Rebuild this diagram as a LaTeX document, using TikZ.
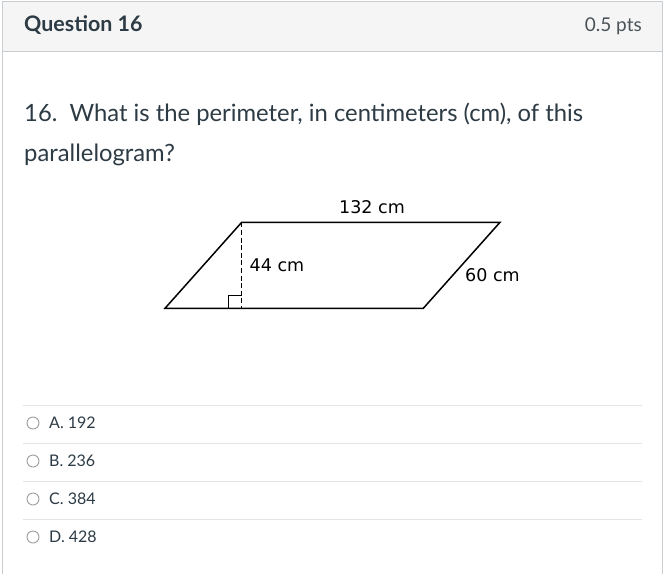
\documentclass[tikz,border=0pt]{standalone}
\usepackage{fontspec}
\setmainfont{Lato}
\newfontfamily\figfont{DejaVu Sans}
\definecolor{bordergray}{HTML}{C7CDD1}
\definecolor{headfill}{HTML}{F5F5F5}
\definecolor{txt}{HTML}{2D3B45}
\definecolor{ptsgray}{HTML}{4A5358}
\definecolor{sepgray}{HTML}{E2E4E5}
\definecolor{radiogray}{HTML}{9A9EA1}
\tikzset{
  panel/.style={draw=bordergray, line width=1pt},
  sepline/.style={draw=sepgray, line width=1pt},
  radio/.style={draw=radiogray, line width=0.9pt},
  pgram/.style={draw=black, line width=1.5pt, line join=miter},
  heightline/.style={draw=black, line width=1.5pt, dash pattern=on 5pt off 2.6pt},
  figlabel/.style={font=\figfont\fontsize{17.5}{20}\selectfont, text=black, inner sep=0pt},
  opt/.style={anchor=base west, inner sep=0pt, text=txt, font=\fontsize{16}{19}\selectfont},
  qtext/.style={anchor=base west, inner sep=0pt, text=txt, font=\fontsize{23.8}{28}\selectfont},
}
\begin{document}
\begin{tikzpicture}[x=1pt,y=-1pt]
\useasboundingbox (0,0) rectangle (669,574);
\fill[white] (0,0) rectangle (669,574);
% panel
\fill[headfill] (2.5,1.5) rectangle (662.5,51.5);
\draw[panel] (2.5,574) -- (2.5,1.5) -- (662.5,1.5) -- (662.5,574);
\draw[panel] (2.5,51.5) -- (662.5,51.5);
\node[anchor=base west, inner sep=0pt, text=txt, font=\bfseries\fontsize{21.4}{24}\selectfont] (title) at (24,31.5) {Question 16};
\node[anchor=base east, inner sep=0pt, text=ptsgray, font=\fontsize{19}{24}\selectfont] (pts) at (642,31.5) {0.5 pts};
% question
\node[qtext] (q1) at (24,121.5) {16.\ \ What is the perimeter, in centimeters (cm), of this};
\node[qtext] (q2) at (24,161.5) {parallelogram?};
% figure
\coordinate (tl) at (241.7,222.3);
\coordinate (tr) at (500,222.3);
\coordinate (br) at (423.3,308.3);
\coordinate (bl) at (165,308.3);
\coordinate (foot) at (241.7,308.3);
\draw[pgram] (tl) -- (tr) -- (br) -- (bl) -- cycle;
\draw[heightline] (tl) -- (foot);
\draw[black, line width=1pt] (228.5,308.3) -- (228.5,295.5) -- (241.7,295.5);
\node[figlabel, anchor=base] (l132) at (372,213) {132 cm};
\node[figlabel, anchor=base west] (l44) at (249.5,271.7) {44 cm};
\node[figlabel, anchor=base west] (l60) at (465,281.7) {60 cm};
% options
\foreach \yy in {405,443,481,519} {\draw[sepline] (23,\yy) -- (642,\yy);}
\draw[radio] (33,423) circle (6);
\draw[radio] (33,461) circle (6);
\draw[radio] (33,499) circle (6);
\draw[radio] (33,537) circle (6);
\node[opt] (oa) at (49,428.5) {A. 192};
\node[opt] (ob) at (49,466.5) {B. 236};
\node[opt] (oc) at (49,504.5) {C. 384};
\node[opt] (od) at (49,542.5) {D. 428};
\end{tikzpicture}
\end{document}
